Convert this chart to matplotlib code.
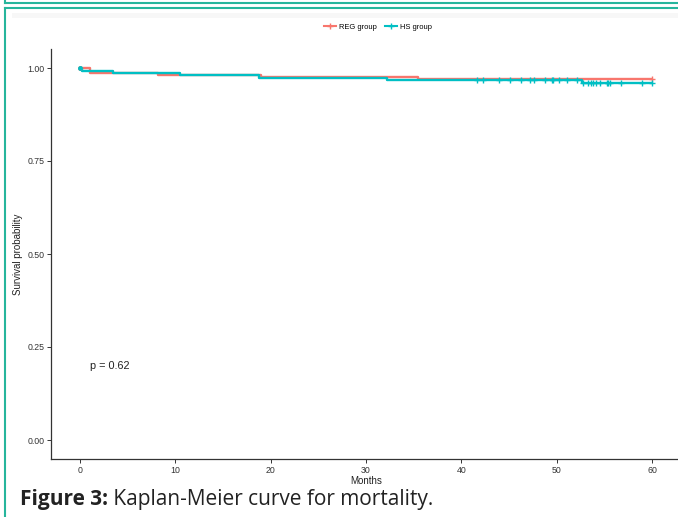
import matplotlib
matplotlib.use("Agg")
import matplotlib.pyplot as plt
from matplotlib.lines import Line2D
from matplotlib.patches import Rectangle
import numpy as np

# ---- data ----
groups = ["REG group", "HS group"]
colors = ["#F8766D", "#00BFC4"]

reg_times = [0, 1.0, 8.2, 19.0, 35.5, 60.0]
reg_surv = [1.000, 0.987, 0.980, 0.977, 0.970, 0.970]
reg_censor_t = [60.0]

hs_times = [0, 0.2, 3.5, 10.5, 18.8, 32.2, 52.7, 60.0]
hs_surv = [1.000, 0.992, 0.987, 0.980, 0.974, 0.968, 0.959, 0.959]
hs_censor_t = [41.6, 42.3, 43.9, 45.1, 46.3, 47.2, 47.6, 48.8, 49.5, 49.6,
               50.2, 51.1, 52.1, 52.8, 53.3, 53.6, 53.8, 54.1, 54.5, 55.3,
               55.4, 55.6, 56.8, 58.9, 60.0]

x_ticks = [0, 10, 20, 30, 40, 50, 60]
y_ticks = [0.00, 0.25, 0.50, 0.75, 1.00]
y_ticklabels = ["0.00", "0.25", "0.50", "0.75", "1.00"]
p_text = "p = 0.62"
caption_bold = "Figure 3:"
caption_rest = " Kaplan-Meier curve for mortality."

plt.rcParams["font.family"] = ["Liberation Sans", "DejaVu Sans"]

W, H = 678, 517
fig = plt.figure(figsize=(W / 100, H / 100), dpi=100)

# axes placement
ax_left = 51.4 / W
ax_right = 680.6 / W
ax_bottom = (H - 458.6) / H
ax_top = (H - 49.4) / H
ax = fig.add_axes([ax_left, ax_bottom, ax_right - ax_left, ax_top - ax_bottom])

def step_value(times, surv, t):
    idx = np.searchsorted(times, t, side="right") - 1
    return surv[idx]

for name, col, times, surv, cens in [
    (groups[0], colors[0], reg_times, reg_surv, reg_censor_t),
    (groups[1], colors[1], hs_times, hs_surv, hs_censor_t),
]:
    ax.step(times, surv, where="post", color=col, lw=1.7, solid_capstyle="butt")
    cy = [step_value(times, surv, t) for t in cens]
    ax.plot(cens, cy, linestyle="none", marker="+", color=col, ms=5, mew=1.0)

# starting dots
ax.plot([0], [1.0], marker="o", ms=2.5, color=colors[0], linestyle="none")
ax.plot([0], [1.0], marker="o", ms=2.5, color=colors[1], linestyle="none")

ax.set_xlim(-3, 63)
ax.set_ylim(-0.05, 1.05)
ax.set_xticks(x_ticks)
ax.set_xticklabels([str(v) for v in x_ticks])
ax.set_yticks(y_ticks)
ax.set_yticklabels(y_ticklabels)
for s in ["top", "right"]:
    ax.spines[s].set_visible(False)
for s in ["left", "bottom"]:
    ax.spines[s].set_color("#333333")
    ax.spines[s].set_linewidth(0.9)
ax.tick_params(axis="both", labelsize=6.3, colors="#333333", length=3, width=0.7,
               labelcolor="#333333", pad=2)
ax.set_xlabel("Months", fontsize=7, labelpad=1, color="#222222")
ax.set_ylabel("Survival probability", fontsize=7, labelpad=3, color="#222222")

ax.text(1.0, 0.2, p_text, fontsize=7.8, ha="left", va="center", color="#222222")

# legend
handles = [Line2D([], [], color=colors[0], lw=1.5, marker="+", ms=5, mew=1.0),
           Line2D([], [], color=colors[1], lw=1.5, marker="+", ms=5, mew=1.0)]
fig.legend(handles, groups, loc="center", bbox_to_anchor=(378 / W, 1 - 27 / H),
           ncol=2, frameon=False, fontsize=5.4, handlelength=1.6,
           handletextpad=0.5, columnspacing=1.0)

# caption
t1 = fig.text(20 / W, 1 - 500 / H, caption_bold, fontsize=15, fontweight="bold",
              family="Open Sans", ha="left", va="center", color="#222222")
fig.canvas.draw()
bb = t1.get_window_extent()
fig.text(bb.x1 / W, 1 - 500 / H, caption_rest, fontsize=15,
         family="Open Sans", ha="left", va="center", color="#222222")

# page frame decorations
teal = "#26b59c"
fig.add_artist(Line2D([5 / W, 5 / W], [1, 1 - 3 / H], color=teal, lw=1.5))
fig.add_artist(Line2D([5 / W, 1], [1 - 3 / H, 1 - 3 / H], color=teal, lw=1.5))
fig.add_artist(Line2D([5 / W, 1], [1 - 8 / H, 1 - 8 / H], color=teal, lw=1.5))
fig.add_artist(Line2D([5 / W, 5 / W], [1 - 8 / H, 0], color=teal, lw=1.5))
fig.add_artist(Rectangle((12 / W, 1 - 18 / H), 1, 5 / H, color="#f7f7f7", lw=0))

fig.savefig("out.png", dpi=100)
